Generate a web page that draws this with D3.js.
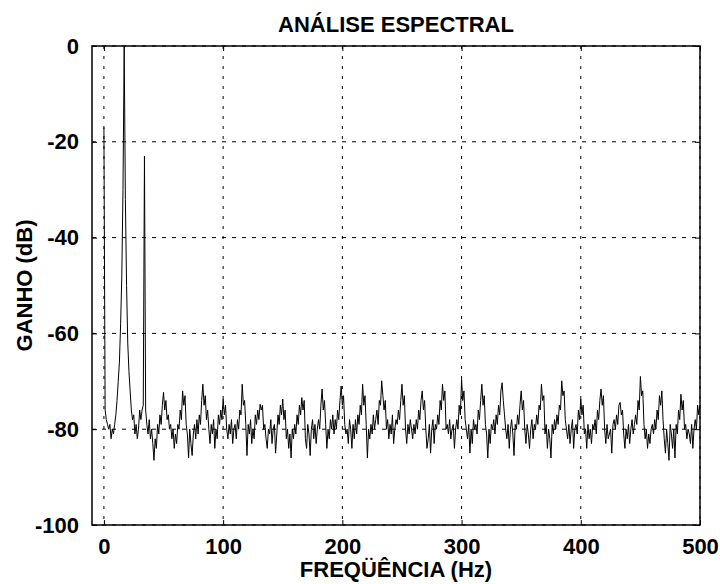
<!DOCTYPE html>
<meta charset="utf-8">
<head>
    <title>Análise Espectral</title>
    <style>
        body { margin: 0; background: #fff; }
        text { font-family: "Liberation Sans", Arial, sans-serif; font-weight: bold; fill: #000; }
    </style>
</head>
<body>
<script src="https://cdn.jsdelivr.net/npm/d3@7"></script>
<svg id="chart" width="720" height="584"></svg>

<script>
    // ganho (dB) por bin de 1 Hz, de 0 a 500 Hz
    var gain = [
        -17, -76, -78, -79, -80, -79, -82, -80, -81, -79, -77, -74, -70, -66, -58, -48, -30, 0, -32, -50,
        -62, -68, -72, -76, -78, -77, -81, -79, -82, -80, -76, -78, -76, -75, -23, -76, -79, -81, -78, -82,
        -80, -83, -86.5, -82, -84, -79, -81, -77, -79, -75, -72.3, -76, -74, -78, -77, -80, -79, -82, -80, -84,
        -81, -83, -79, -80, -76, -78, -72, -75, -73, -79, -81, -86, -80, -83, -85.5, -81, -79, -82, -78, -81,
        -77, -79, -74, -70.6, -75, -73, -78, -76, -80, -83, -79, -81, -78, -84, -80, -82, -77, -79, -76, -78,
        -73.7, -77, -75, -80, -82, -79, -81, -78, -83, -80, -79, -82, -78, -80, -76, -77, -70.6, -75, -74, -79,
        -85.5, -79, -81, -78, -83, -80, -82, -77, -79, -76, -78, -74.8, -76, -75, -80, -79, -82, -84, -80, -81,
        -78, -83, -80, -79, -85, -81, -77, -79, -75, -77, -73.7, -78, -76, -82, -80, -84, -81, -86, -80, -82,
        -79, -81, -77, -79, -75, -77, -73.4, -76, -74, -82, -84, -79, -81, -85.5, -80, -78, -82, -79, -83, -80,
        -78, -80, -75, -71.6, -76, -74, -79, -84, -80, -82, -78, -80, -77, -81, -78, -80, -76, -78, -74, -71,
        -75, -73, -79, -81, -80, -83, -78, -80, -84, -79, -82, -78, -81, -77, -79, -75, -77, -70.6, -75, -73,
        -79, -86, -80, -82, -79, -81, -77, -80, -78, -76, -79, -74, -75, -69.9, -73, -76, -74, -80, -78, -82,
        -79, -81, -77, -83, -80, -78, -79, -76, -78, -74, -70.6, -75, -73, -80, -83, -79, -81, -78, -80, -82,
        -79, -81, -78, -80, -76, -78, -74, -72, -76, -74, -80, -84, -82, -79, -85, -80, -78, -83, -79, -80,
        -77, -79, -74, -76, -70.6, -74, -72, -80, -79, -81, -78, -82, -80, -79, -84, -80, -78, -80, -75, -77,
        -69.6, -74, -72, -78, -80, -82, -79, -85, -80, -83, -78, -80, -79, -81, -76, -78, -74, -70.6, -75, -73,
        -79, -81, -86, -80, -83, -79, -80, -78, -81, -77, -79, -75, -77, -72, -70.3, -74, -77, -80, -82, -79,
        -84, -80, -78, -81, -85.5, -79, -80, -77, -79, -75, -72, -76, -74, -80, -83, -79, -81, -84, -80, -78,
        -82, -79, -80, -77, -79, -75, -76, -70.6, -74, -73, -81, -79, -84, -80, -82, -86, -79, -81, -78, -80,
        -77, -79, -75, -76, -69.9, -73, -72, -78, -80, -82, -79, -83, -80, -78, -84, -80, -79, -81, -76, -78,
        -73.7, -77, -75, -81, -80, -84, -79, -82, -80, -83, -79, -80, -78, -81, -76, -78, -74, -71.6, -75, -73,
        -80, -83, -79, -82, -81, -80, -85, -79, -78, -80, -77, -79, -75, -74.4, -77, -76, -81, -84, -80, -82,
        -79, -83, -80, -78, -81, -79, -77, -79, -74, -76, -69, -73, -72, -79, -82, -80, -84, -81, -83, -80,
        -79, -81, -78, -80, -76, -78, -73, -75, -72, -78, -82, -85, -80, -83, -86.5, -79, -81, -84, -80, -86,
        -79, -81, -76, -78, -72.7, -76, -74, -80, -79, -82, -80, -81, -83, -79, -84, -80, -78, -80, -75, -77,
        -75
    ];
    var freq = gain.map(function (d, i) { return i; });

    var xTicks = [0, 100, 200, 300, 400, 500],
        yTicks = [0, -20, -40, -60, -80, -100];

    var svg = d3.select("#chart"),
        mLeft = 92, mRight = 700, mTop = 46, mBottom = 525;

    var x = d3.scaleLinear().domain([-10, 500]).range([mLeft, mRight]),
        y = d3.scaleLinear().domain([-100, 0]).range([mBottom, mTop]);

    // grade tracejada
    svg.append("g").selectAll("line").data(xTicks).enter().append("line")
        .attr("x1", d => x(d)).attr("x2", d => x(d))
        .attr("y1", mTop).attr("y2", mBottom)
        .attr("stroke", "#000").attr("stroke-width", 1)
        .attr("stroke-dasharray", "3,7");
    svg.append("g").selectAll("line").data(yTicks).enter().append("line")
        .attr("x1", mLeft).attr("x2", mRight)
        .attr("y1", d => y(d)).attr("y2", d => y(d))
        .attr("stroke", "#000").attr("stroke-width", 1)
        .attr("stroke-dasharray", "4,6");

    // espectro
    var line = d3.line()
        .x(function (d, i) { return x(freq[i]); })
        .y(function (d) { return y(d); });
    svg.append("path")
        .datum(gain)
        .attr("d", line)
        .attr("fill", "none")
        .attr("stroke", "#000")
        .attr("stroke-width", 1);

    // eixos (ticks para dentro, como no MATLAB)
    var fmt = function (d) { return String(d); };
    svg.append("g").attr("transform", "translate(0," + mBottom + ")")
        .call(d3.axisBottom(x).tickValues(xTicks).tickFormat(fmt).tickSizeInner(-5).tickSizeOuter(0).tickPadding(13));
    svg.append("g").attr("transform", "translate(0," + mTop + ")")
        .call(d3.axisTop(x).tickValues(xTicks).tickSizeInner(-5).tickSizeOuter(0).tickFormat(""));
    svg.append("g").attr("transform", "translate(" + mLeft + ",0)")
        .call(d3.axisLeft(y).tickValues(yTicks).tickFormat(fmt).tickSizeInner(-5).tickSizeOuter(0).tickPadding(13));
    svg.append("g").attr("transform", "translate(" + mRight + ",0)")
        .call(d3.axisRight(y).tickValues(yTicks).tickSizeInner(-5).tickSizeOuter(0).tickFormat(""));

    svg.selectAll(".tick text").attr("font-size", 22).attr("font-family", null).attr("fill", "#000");
    svg.selectAll(".domain").remove();

    svg.append("rect")
        .attr("x", mLeft).attr("y", mTop)
        .attr("width", mRight - mLeft).attr("height", mBottom - mTop)
        .attr("fill", "none").attr("stroke", "#000").attr("stroke-width", 1.5);

    svg.append("text").attr("x", (mLeft + mRight) / 2).attr("y", 32)
        .attr("text-anchor", "middle").attr("font-size", 22).text("ANÁLISE ESPECTRAL");
    svg.append("text").attr("x", (mLeft + mRight) / 2).attr("y", 577)
        .attr("text-anchor", "middle").attr("font-size", 22).text("FREQÜÊNCIA (Hz)");
    svg.append("text").attr("transform", "translate(32," + (mTop + mBottom) / 2 + ") rotate(-90)")
        .attr("text-anchor", "middle").attr("font-size", 22).text("GANHO (dB)");
</script>
</body>
